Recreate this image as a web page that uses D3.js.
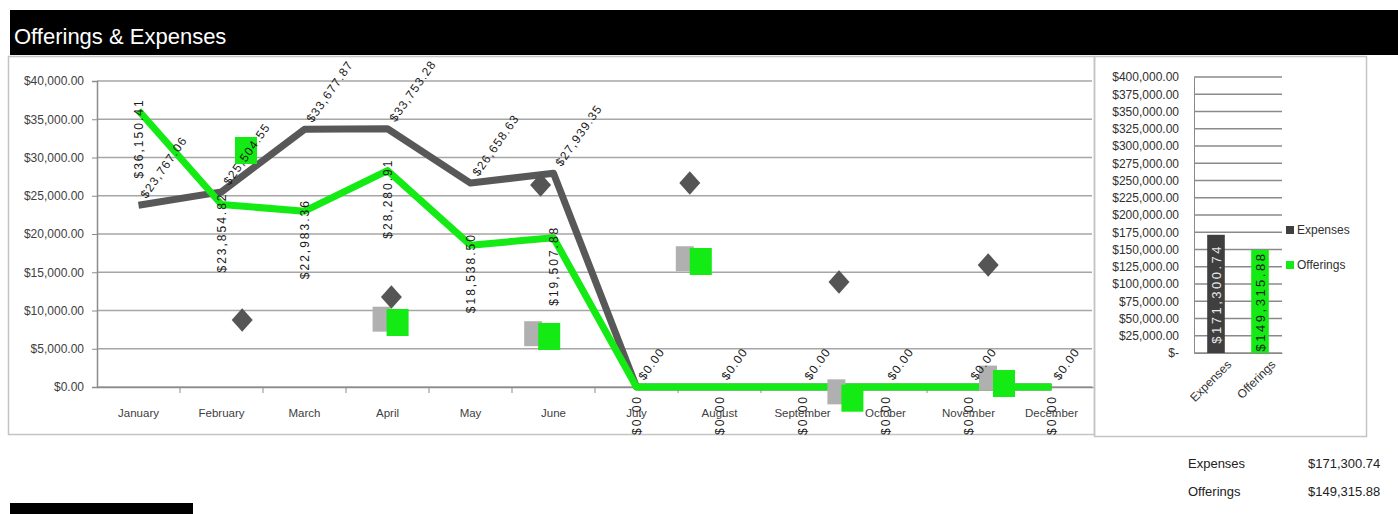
<!DOCTYPE html>
<html>
<head>
<meta charset="utf-8">
<script src="https://cdn.jsdelivr.net/npm/d3@7"></script>
<style>
  html, body { margin: 0; padding: 0; background: #fff; }
  svg { display: block; font-family: "Liberation Sans", Arial, sans-serif; }
</style>
</head>
<body>
<svg id="chart" width="1398" height="514"></svg>
<script>
// ---------- data ----------
const months = ["January","February","March","April","May","June","July","August","September","October","November","December"];
const expenses  = [23767.06, 25504.55, 33677.87, 33753.28, 26658.63, 27939.35, 0, 0, 0, 0, 0, 0];
const offerings = [36150.41, 23854.82, 22983.36, 28280.91, 18538.50, 19507.88, 0, 0, 0, 0, 0, 0];
const yTicks = [0, 5000, 10000, 15000, 20000, 25000, 30000, 35000, 40000];

// stray marker series (as they appear in the picture)
const markerSlots   = [1, 2, 3, 4, 5, 6];
const diamondValues = [8760, 11760, 26400, 26670, 13730, 15950];
const squareValues  = [30980, 8500, 6670, 16470, -1400, 520];
const shadowValues  = [null, 8800, 6900, 16700, -700, 1100];

// totals panel
const totalCats = ["Expenses", "Offerings"];
const totals = [171300.74, 149315.88];
const rTicks = [0, 25000, 50000, 75000, 100000, 125000, 150000, 175000, 200000, 225000, 250000, 275000, 300000, 325000, 350000, 375000, 400000];

// ---------- styles ----------
const GRAY = "#585858", GREEN = "#14ea14", DARK = "#3f3f3f";
const fmt = d3.format("$,.2f");
const svg = d3.select("#chart");

// title bar
svg.append("rect").attr("x", 10).attr("y", 10).attr("width", 1388).attr("height", 45).attr("fill", "#000");
svg.append("text").attr("x", 14).attr("y", 44).attr("fill", "#fff").attr("font-size", 22).text("Offerings & Expenses");

// frames
svg.append("rect").attr("x", 8.5).attr("y", 56.5).attr("width", 1086).attr("height", 378)
  .attr("fill", "none").attr("stroke", "#c4c4c4").attr("stroke-width", 1.5);
svg.append("rect").attr("x", 1094.5).attr("y", 56.5).attr("width", 272).attr("height", 380)
  .attr("fill", "none").attr("stroke", "#c4c4c4").attr("stroke-width", 1.5);

// ---------- main chart ----------
const x = d3.scaleBand().domain(months).range([97, 1093]);
const y = d3.scaleLinear().domain([0, 40000]).range([387, 81]);
const cx = m => x(m) + x.bandwidth() / 2;

const main = svg.append("g");
main.selectAll("line.grid").data(yTicks).join("line")
  .attr("x1", 97).attr("x2", 1092).attr("y1", d => y(d)).attr("y2", d => y(d))
  .attr("stroke", "#a6a6a6").attr("stroke-width", 1.6);

const yAxis = main.append("g").attr("transform", "translate(97,0)")
  .call(d3.axisLeft(y).tickValues(yTicks).tickFormat(fmt).tickSize(5).tickPadding(8));
yAxis.select(".domain").attr("stroke", "#8c8c8c").attr("stroke-width", 1.5);
yAxis.selectAll(".tick line").attr("stroke", "#8c8c8c");
yAxis.selectAll("text").attr("font-size", 12).attr("fill", "#404040").attr("font-family", "Liberation Sans, Arial, sans-serif");

const xAxis = main.append("g").attr("transform", "translate(0,387)")
  .call(d3.axisBottom(x).tickSize(0).tickPadding(22));
xAxis.select(".domain").attr("stroke", "#8c8c8c").attr("stroke-width", 1.5);
xAxis.selectAll("text").attr("font-size", 11.5).attr("fill", "#404040").attr("font-family", "Liberation Sans, Arial, sans-serif");
main.selectAll("line.xt").data(months.slice(1)).join("line")
  .attr("x1", d => x(d)).attr("x2", d => x(d)).attr("y1", 387).attr("y2", 393)
  .attr("stroke", "#8c8c8c");

const lineGen = vals => d3.line().x((d, i) => cx(months[i])).y(d => y(d)).curve(d3.curveLinear)(vals);
main.append("path").attr("d", lineGen(expenses)).attr("fill", "none")
  .attr("stroke", GRAY).attr("stroke-width", 7).attr("stroke-linejoin", "round");
main.append("path").attr("d", lineGen(offerings)).attr("fill", "none")
  .attr("stroke", GREEN).attr("stroke-width", 7).attr("stroke-linejoin", "round");

// stray markers
const dX = d3.scaleLinear().domain([0, 6]).range([93, 988.2]);
const sX = d3.scaleLinear().domain([0, 6]).range([94.4, 1004]);
main.selectAll("rect.shadow").data(markerSlots.map((s, i) => ({s, v: shadowValues[i]})).filter(d => d.v !== null)).join("rect")
  .attr("x", d => sX(d.s) - 11 - 14).attr("y", d => y(d.v) - 13).attr("width", 18).attr("height", 25)
  .attr("fill", "#b0b0b0");
main.selectAll("path.diamond").data(markerSlots.map((s, i) => ({s, v: diamondValues[i]}))).join("path")
  .attr("d", d3.symbol(d3.symbolSquare, 220)())
  .attr("transform", d => `translate(${dX(d.s)},${y(d.v)}) scale(1,1.12) rotate(45)`)
  .attr("fill", "#555");
main.selectAll("rect.sq").data(markerSlots.map((s, i) => ({s, v: squareValues[i]}))).join("rect")
  .attr("x", d => sX(d.s) - 11).attr("y", d => y(d.v) - 13).attr("width", 22).attr("height", 27)
  .attr("fill", GREEN);

// data labels
main.selectAll("text.expLab").data(expenses).join("text")
  .attr("transform", (d, i) => `translate(${cx(months[i]) + 8},${y(d) - 6}) rotate(-55)`)
  .attr("font-size", 12).attr("letter-spacing", 1.2).attr("fill", "#1a1a1a")
  .text(d => fmt(d));
main.selectAll("text.offLab").data(offerings).join("text")
  .attr("transform", (d, i) => `translate(${cx(months[i]) + 4},${y(d) + 28}) rotate(-90)`)
  .attr("text-anchor", "middle")
  .attr("font-size", 12).attr("letter-spacing", 2).attr("fill", "#1a1a1a")
  .text(d => fmt(d));

// ---------- totals panel ----------
const xr = d3.scaleBand().domain(totalCats).range([1194, 1282]).paddingInner(0.6).paddingOuter(0.3);
const yr = d3.scaleLinear().domain([0, 400000]).range([353, 77]);
const side = svg.append("g");
side.selectAll("line.rgrid").data(rTicks).join("line")
  .attr("x1", 1194).attr("x2", 1282).attr("y1", d => yr(d)).attr("y2", d => yr(d))
  .attr("stroke", "#8a8a8a").attr("stroke-width", 1.3);
const ryAxis = side.append("g").attr("transform", "translate(1194,0)")
  .call(d3.axisLeft(yr).tickValues(rTicks).tickFormat(d => d === 0 ? "$-" : fmt(d)).tickSize(0).tickPadding(15));
ryAxis.select(".domain").attr("stroke", "#8a8a8a");
ryAxis.selectAll("text").attr("font-size", 12).attr("fill", "#303030").attr("font-family", "Liberation Sans, Arial, sans-serif");
const rxAxis = side.append("g").attr("transform", "translate(0,353)")
  .call(d3.axisBottom(xr).tickSize(0).tickPadding(8));
rxAxis.select(".domain").attr("stroke", "#8a8a8a");
rxAxis.selectAll("text").attr("font-size", 12).attr("fill", "#303030").attr("font-family", "Liberation Sans, Arial, sans-serif")
  .attr("text-anchor", "end").attr("dy", "0.3em")
  .attr("transform", "translate(8,4) rotate(-45)");

side.selectAll("rect.bar").data(totals).join("rect")
  .attr("x", (d, i) => xr(totalCats[i])).attr("y", d => yr(d))
  .attr("width", xr.bandwidth()).attr("height", d => 353 - yr(d))
  .attr("fill", (d, i) => i === 0 ? DARK : GREEN);
side.selectAll("text.barLab").data(totals).join("text")
  .attr("transform", (d, i) => `translate(${xr(totalCats[i]) + xr.bandwidth() / 2 + 5},${(yr(d) + 353) / 2}) rotate(-90)`)
  .attr("text-anchor", "middle").attr("font-size", 13).attr("letter-spacing", 2.5)
  .attr("fill", (d, i) => i === 0 ? "#e8e8e8" : "#1a1a1a")
  .text(d => fmt(d));

// legend
const legend = side.selectAll("g.leg").data(totalCats).join("g")
  .attr("transform", (d, i) => `translate(1286,${230 + i * 35})`);
legend.append("rect").attr("x", 0).attr("y", -4).attr("width", 8).attr("height", 8)
  .attr("fill", (d, i) => i === 0 ? DARK : GREEN);
legend.append("text").attr("x", 11).attr("y", 4).attr("font-size", 12).attr("fill", "#303030").text(d => d);

// summary below
const summ = svg.selectAll("g.summ").data(totalCats).join("g")
  .attr("transform", (d, i) => `translate(0,${468 + i * 28})`);
summ.append("text").attr("x", 1188).attr("font-size", 13).attr("fill", "#222").text(d => d);
summ.append("text").attr("x", 1308).attr("font-size", 13).attr("fill", "#222").text((d, i) => fmt(totals[i]));

// bottom-left header bar
svg.append("rect").attr("x", 10).attr("y", 503).attr("width", 183).attr("height", 12).attr("fill", "#000");
</script>
</body>
</html>
